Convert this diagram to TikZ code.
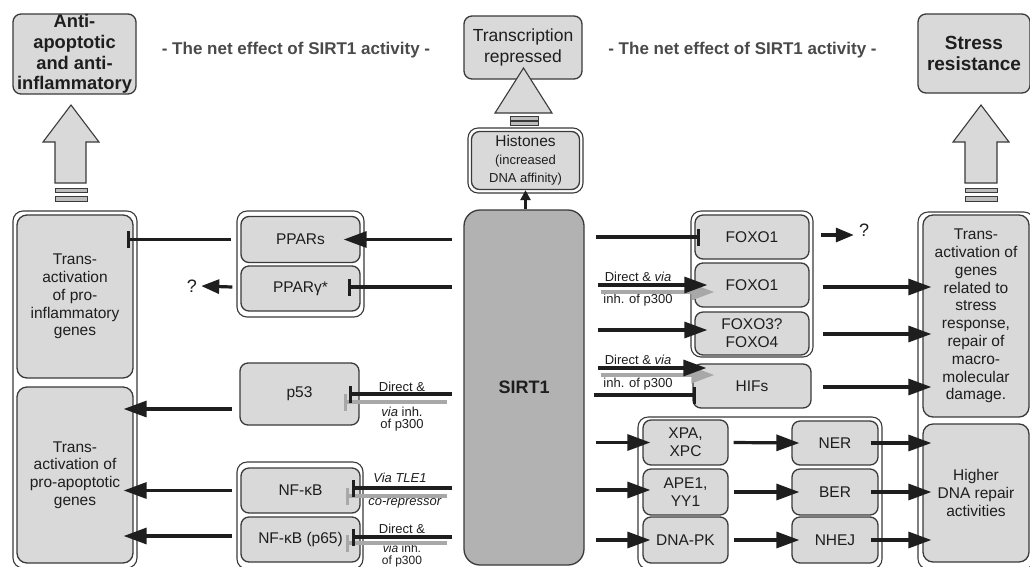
\documentclass[tikz,border=0pt]{standalone}
\usepackage{fontspec}
\setmainfont{Liberation Sans}
\usetikzlibrary{arrows.meta,calc}
\definecolor{boxfill}{HTML}{D9D9D9}
\definecolor{sirtfill}{HTML}{B2B2B2}
\definecolor{edge}{HTML}{3A3A3A}
\definecolor{ink}{HTML}{1E1E1E}
\definecolor{shade}{HTML}{A8A8A8}
\definecolor{nettext}{HTML}{4A4A4A}
\definecolor{stripefill}{HTML}{BDBDBD}
\tikzset{
 box/.style={draw=edge, line width=1.3pt, fill=boxfill, rounded corners=8pt, inner sep=0pt, align=center, text=ink, font=\fontsize{15.5}{17.8}\selectfont},
 frame/.style={draw=edge, line width=1.1pt, fill=white, rounded corners=10pt, inner sep=0pt},
 toptext/.style={inner sep=0pt, align=center, text=ink, font=\bfseries\fontsize{18.3}{20.8}\selectfont},
 nettxt/.style={inner sep=0pt, text=nettext, font=\bfseries\fontsize{17}{19}\selectfont},
 act/.style={draw=ink, line width=3.2pt, -{Triangle[length=23pt,width=16pt]}},
 actg/.style={draw=shade, line width=3.2pt, -{Triangle[length=23pt,width=16pt]}},
 actsmall/.style={draw=ink, line width=3.2pt, -{Triangle[length=18pt,width=14pt]}},
 inh/.style={draw=ink, line width=3.2pt, -{Bar[width=17pt]}},
 inhg/.style={draw=shade, line width=3.2pt, -{Bar[width=17pt]}},
 lab/.style={inner sep=0pt, text=ink, font=\fontsize{13}{14}\selectfont},
 labsmall/.style={inner sep=0pt, text=ink, align=center, font=\fontsize{12}{11.5}\selectfont},
 qmark/.style={inner sep=2pt, text=ink, font=\fontsize{18}{20}\selectfont},
 bigarrow/.style={draw=edge, line width=1.1pt, fill=boxfill, line join=miter},
 stripe/.style={draw=edge, line width=0.9pt, fill=stripefill},
}
\begin{document}
\begin{tikzpicture}[x=1pt,y=-1pt]
\fill[white] (0,0) rectangle (1030,566);
\useasboundingbox (0,0) rectangle (1030,566);

% ---------- top row ----------
\node[box, minimum width=123, minimum height=80] (anti) at (74.5,54) {};
\node[toptext] (antitext) at (anti.center) {Anti-\\apoptotic\\and anti-\\inflammatory};
\node[nettxt] (net1) at (296,50) {- The net effect of SIRT1 activity -};
\node[box, minimum width=118, minimum height=63, font=\fontsize{17.5}{21}\selectfont] (trans) at (523,47.5) {Transcription\\repressed};
\node[nettxt] (net2) at (742.5,50) {- The net effect of SIRT1 activity -};
\node[box, minimum width=112, minimum height=79, font=\bfseries\fontsize{19}{21}\selectfont] (stress) at (974,53.5) {Stress\\resistance};

% ---------- big hollow arrows ----------
\draw[bigarrow] (71,105) -- (99,142) -- (86,142) -- (86,183) -- (55,183) -- (55,142) -- (43,142) -- cycle;
\draw[stripe] (55,188) rectangle (87,192);
\draw[stripe] (55,196) rectangle (87,201);
\draw[bigarrow] (981,105) -- (1009,142) -- (997,142) -- (997,183) -- (965,183) -- (965,142) -- (953,142) -- cycle;
\draw[stripe] (965,188) rectangle (997,192);
\draw[stripe] (965,196) rectangle (997,201);
\draw[bigarrow] (523.5,68) -- (552,113) -- (495,113) -- cycle;
\draw[stripe] (510,116) rectangle (538,120);
\draw[stripe] (510,121) rectangle (538,125);

% ---------- centre ----------
\node[frame, minimum width=115, minimum height=65] (histframe) at (525.5,160.5) {};
\node[box, minimum width=108, minimum height=58] (histones) at (525.5,160.5)
  {Histones\\{\fontsize{13}{14.5}\selectfont (increased}\\{\fontsize{13}{14.5}\selectfont DNA affinity)}};
\node[box, fill=sirtfill, minimum width=120, minimum height=355, rounded corners=16pt, font=\bfseries\fontsize{18}{20}\selectfont] (sirt) at (524,387.5) {SIRT1};

% ---------- left column ----------
\node[frame, minimum width=124, minimum height=357] (leftframe) at (75,389.5) {};
\node[box, minimum width=116, minimum height=163, rounded corners=10pt] (inflam) at (75,296.5)
  {Trans-\\activation\\of pro-\\inflammatory\\genes};
\node[box, minimum width=116, minimum height=176, rounded corners=10pt] (apopt) at (75,475)
  {Trans-\\activation of\\pro-apoptotic\\genes};

\node[frame, minimum width=127, minimum height=106] (pparframe) at (300.5,264) {};
\node[box, minimum width=119, minimum height=46] (ppars) at (300.5,239.5) {PPARs};
\node[box, minimum width=119, minimum height=45] (ppargamma) at (300.5,288.5) {PPARγ*};
\node[box, minimum width=119, minimum height=62] (p53) at (299.5,394) {p53};
\node[frame, minimum width=126, minimum height=107] (nfkbframe) at (300,515.5) {};
\node[box, minimum width=119, minimum height=45] (nfkb) at (300.5,490.5) {NF-κB};
\node[box, minimum width=119, minimum height=45] (nfkb65) at (300.5,539.5) {NF-κB (p65)};

% ---------- right column ----------
\node[frame, minimum width=122, minimum height=146] (foxoframe) at (752,284) {};
\node[box, minimum width=114, minimum height=44] (foxo1a) at (752,237) {FOXO1};
\node[box, minimum width=114, minimum height=44] (foxo1b) at (752,285) {FOXO1};
\node[box, minimum width=114, minimum height=43] (foxo34) at (752,333.5) {FOXO3?\\FOXO4};
\node[box, minimum width=118, minimum height=44] (hifs) at (752,386) {HIFs};

\node[frame, minimum width=116, minimum height=357] (rightframe) at (976,390.5) {};
\node[box, minimum width=106, minimum height=202, rounded corners=10pt] (stressgenes) at (976,316)
  {Trans-\\activation of\\genes\\related to\\stress\\response,\\repair of\\macro-\\molecular\\damage.};
\node[box, minimum width=106, minimum height=138, rounded corners=10pt] (dnarepair) at (976,493)
  {Higher\\DNA repair\\activities};

\node[frame, minimum width=244, minimum height=152] (repairframe) at (760,493) {};
\node[box, minimum width=85, minimum height=45] (xpa) at (685.5,442.5) {XPA,\\XPC};
\node[box, minimum width=85, minimum height=46] (ape) at (685.5,492) {APE1,\\YY1};
\node[box, minimum width=85, minimum height=46] (dnapk) at (685.5,540) {DNA-PK};
\node[box, minimum width=86, minimum height=44] (ner) at (835,443) {NER};
\node[box, minimum width=86, minimum height=46] (ber) at (835,492) {BER};
\node[box, minimum width=86, minimum height=46] (nhej) at (835,540) {NHEJ};

% ---------- question marks ----------
\node[qmark] (q1) at (192,286) {?};
\node[qmark] (q2) at (864,230) {?};

% ---------- labels ----------
\node[lab] (l1) at (402,387) {Direct \&};
\node[lab] (l2) at (402,412) {\textit{via} inh.};
\node[lab] (l3) at (402,425) {of p300};
\node[lab] (l4) at (400,478) {\textit{Via TLE1}};
\node[lab] (l5) at (405,503) {\textit{co-repressor}};
\node[lab] (l6) at (402,528.5) {Direct \&};
\node[labsmall] (l7) at (402,555.5) {\textit{via} inh.\\of p300};
\node[lab] (l9) at (638,277) {Direct \& \textit{via}};
\node[lab] (l10) at (638,300) {inh. of p300};
\node[lab] (l11) at (638,360) {Direct \& \textit{via}};
\node[lab] (l12) at (638,384) {inh. of p300};

% ---------- connectors ----------
\draw[ink, line width=2.8pt, -{Triangle[length=10pt,width=10pt]}] (sirt.north -| histones) -- (histones.south);

% left side
\draw[act] ($(sirt.west|-ppars)+(-11,0)$) -- ($(ppars.east)+(-17,0)$);
\draw[inh] ($(ppars.west)+(-9,0)$) -- ($(inflam.east|-ppars)+(-7,0)$);
\draw[inh] ($(sirt.west|-ppargamma)+(-11,-1.5)$) -- ($(ppargamma.east)+(-13,-1.5)$);
\draw[actsmall] ($(ppargamma.west)+(-8,-1.5)$) -- ($(q1.east)+(2,0)$);

\draw[inhg] ($(sirt.west|-p53)+(-16,8)$) -- ($(p53.east)+(-16,8)$);
\draw[inh] ($(sirt.west|-p53)+(-11,0)$) -- ($(p53.east)+(-11,0)$);
\draw[act] ($(p53.west)+(-7,15)$) -- ($(apopt.east|-p53)+(-10,15)$);

\draw[inhg] ($(sirt.west|-nfkb)+(-16,5.5)$) -- ($(nfkb.east)+(-15,5.5)$);
\draw[inh] ($(sirt.west|-nfkb)+(-11,-2.5)$) -- ($(nfkb.east)+(-9,-2.5)$);
\draw[act] ($(nfkb.west)+(-8,0)$) -- ($(apopt.east|-nfkb)+(-10,0)$);

\draw[inhg] ($(sirt.west|-nfkb65)+(-16,3.5)$) -- ($(nfkb65.east)+(-15,3.5)$);
\draw[inh] ($(sirt.west|-nfkb65)+(-11,-2.5)$) -- ($(nfkb65.east)+(-9,-2.5)$);
\draw[act] ($(nfkb65.west)+(-8,-3.5)$) -- ($(apopt.east|-nfkb65)+(-10,-3.5)$);

% right side
\draw[inh] ($(sirt.east|-foxo1a)+(11,0)$) -- ($(foxo1a.west)+(6,0)$);
\draw[actsmall] ($(foxo1a.east)+(11,-2)$) -- ($(q2.west)+(-3,5)$);

\draw[actg] ($(sirt.east|-foxo1b)+(16,7)$) -- ($(foxo1b.west)+(20,7)$);
\draw[act] ($(sirt.east|-foxo1b)+(13,0)$) -- ($(foxo1b.west)+(13,0)$);
\draw[act] ($(sirt.east|-foxo34)+(13,-3.5)$) -- ($(foxo34.west)+(13,-3.5)$);
\draw[actg] ($(sirt.east|-hifs)+(16,-11)$) -- ($(hifs.west)+(22,-11)$);
\draw[act] ($(sirt.east|-hifs)+(13,-18)$) -- ($(hifs.west)+(14,-18)$);
\draw[inh] ($(sirt.east|-hifs)+(9,9)$) -- ($(hifs.west)+(4,9)$);

\draw[act] ($(foxo1b.east)+(13,2)$) -- ($(stressgenes.west|-foxo1b)+(9,2)$);
\draw[act] ($(foxo34.east)+(13,0.5)$) -- ($(stressgenes.west|-foxo34)+(9,0.5)$);
\draw[act] ($(hifs.east)+(11,1)$) -- ($(stressgenes.west|-hifs)+(9,1)$);

\draw[act] ($(sirt.east|-xpa)+(11,0)$) -- ($(xpa.west)+(8,0)$);
\draw[act] ($(sirt.east|-ape)+(11,-2)$) -- ($(ape.west)+(8,-2)$);
\draw[act] ($(sirt.east|-dnapk)+(11,0)$) -- ($(dnapk.west)+(8,0)$);

\draw[act] ($(xpa.east)+(5,0)$) -- ($(ner.west)+(8,0)$);
\draw[act] ($(ape.east)+(5,0)$) -- ($(ber.west)+(8,0)$);
\draw[act] ($(dnapk.east)+(5,0)$) -- ($(nhej.west)+(8,0)$);

\draw[act] ($(ner.east)+(-8,0)$) -- ($(dnarepair.west|-ner)+(9,0)$);
\draw[act] ($(ber.east)+(-8,0)$) -- ($(dnarepair.west|-ber)+(9,0)$);
\draw[act] ($(nhej.east)+(-8,0)$) -- ($(dnarepair.west|-nhej)+(9,0)$);
\end{tikzpicture}
\end{document}
